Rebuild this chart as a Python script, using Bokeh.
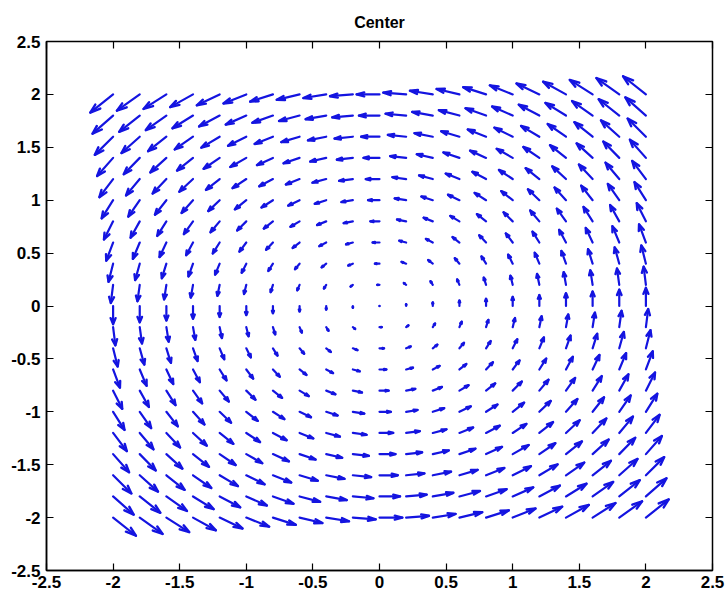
import numpy as np
from bokeh.plotting import figure
from bokeh.models import ColumnDataSource, LinearAxis, Range1d, FixedTicker
from bokeh.embed import file_html
from bokeh.resources import INLINE

# Phase-plane grid (21 x 21 points) and the linear system x' = A x (a centre)
grid_x = [-2.0, -1.8, -1.6, -1.4, -1.2, -1.0, -0.8, -0.6, -0.4, -0.2, 0.0,
          0.2, 0.4, 0.6, 0.8, 1.0, 1.2, 1.4, 1.6, 1.8, 2.0]
grid_y = [-2.0, -1.8, -1.6, -1.4, -1.2, -1.0, -0.8, -0.6, -0.4, -0.2, 0.0,
          0.2, 0.4, 0.6, 0.8, 1.0, 1.2, 1.4, 1.6, 1.8, 2.0]
A = [[0.0, -1.0],
     [1.0, 0.0]]

tick_vals = [-2.5, -2.0, -1.5, -1.0, -0.5, 0.0, 0.5, 1.0, 1.5, 2.0, 2.5]
tick_labels = ["-2.5", "-2", "-1.5", "-1", "-0.5", "0", "0.5", "1", "1.5", "2", "2.5"]
title_text = "Center"

# vector field on the grid
X, Y = np.meshgrid(np.array(grid_x), np.array(grid_y))
U = A[0][0] * X + A[0][1] * Y
V = A[1][0] * X + A[1][1] * Y

# quiver-style automatic scaling (longest arrow ~0.9 of a cell diagonal)
n = np.sqrt(X.size)
delx = (X.max() - X.min()) / n
dely = (Y.max() - Y.min()) / n
cell = np.sqrt(delx ** 2 + dely ** 2)
maxlen = np.max(np.sqrt(U ** 2 + V ** 2) / cell)
s = 0.9 / maxlen
u = (U * s).ravel()
v = (V * s).ravel()
x = X.ravel()
y = Y.ravel()

# shafts
shaft_xs = [[a, a + du] for a, du in zip(x, u)]
shaft_ys = [[b, b + dv] for b, dv in zip(y, v)]

# two-stroke arrow heads
alpha, beta = 0.33, 0.33
eps = 1e-12
head_xs, head_ys = [], []
for a, b, du, dv in zip(x, y, u, v):
    head_xs.append([a + du - alpha * (du + beta * (dv + eps)), a + du,
                    a + du - alpha * (du - beta * (dv + eps))])
    head_ys.append([b + dv - alpha * (dv - beta * (du + eps)), b + dv,
                    b + dv - alpha * (dv + beta * (du + eps))])

p = figure(width=727, height=596, output_backend="svg", toolbar_location=None,
           x_range=Range1d(-2.5, 2.5), y_range=Range1d(-2.5, 2.5),
           min_border_left=46, min_border_right=15, min_border_top=41,
           min_border_bottom=26, title=title_text)
p.title.align = "center"
p.title.text_font = "Liberation Sans"
p.title.text_font_size = "16px"
p.title.text_font_style = "bold"
p.title.text_color = "black"
p.title.offset = 0
p.title.standoff = 22

p.grid.visible = False
p.outline_line_color = "black"
p.outline_line_width = 1.5
p.background_fill_color = "white"
p.border_fill_color = "white"

arrow_color = "#1414e0"
p.multi_line(xs="xs", ys="ys", source=ColumnDataSource(dict(xs=shaft_xs, ys=shaft_ys)),
             line_color=arrow_color, line_width=2.2, line_cap="round")
p.multi_line(xs="xs", ys="ys", source=ColumnDataSource(dict(xs=head_xs, ys=head_ys)),
             line_color=arrow_color, line_width=2.4, line_cap="round", line_join="round")

overrides = {v_: t for v_, t in zip(tick_vals, tick_labels)}
for ax in (p.xaxis[0], p.yaxis[0]):
    ax.ticker = FixedTicker(ticks=tick_vals)
    ax.major_label_overrides = overrides
    ax.major_tick_in = 7
    ax.major_tick_out = 0
    ax.minor_tick_line_color = None
    ax.axis_line_color = "black"
    ax.axis_line_width = 1.5
    ax.major_tick_line_color = "black"
    ax.major_tick_line_width = 1.2
    ax.major_label_text_font = "Liberation Sans"
    ax.major_label_text_font_size = "17px"
    ax.major_label_text_font_style = "bold"
    ax.major_label_text_color = "black"
p.xaxis[0].major_label_standoff = 5
p.yaxis[0].major_label_standoff = 6

# mirrored tick marks on the top and right edges
for side in ("above", "right"):
    ax = LinearAxis(ticker=FixedTicker(ticks=tick_vals))
    ax.major_tick_in = 7
    ax.major_tick_out = 0
    ax.minor_tick_line_color = None
    ax.axis_line_color = None
    ax.major_tick_line_color = "black"
    ax.major_tick_line_width = 1.2
    ax.major_label_text_font_size = "0px"
    ax.major_label_text_color = None
    ax.major_label_standoff = 0
    p.add_layout(ax, side)

open("out.html", "w").write(file_html(p, INLINE))
